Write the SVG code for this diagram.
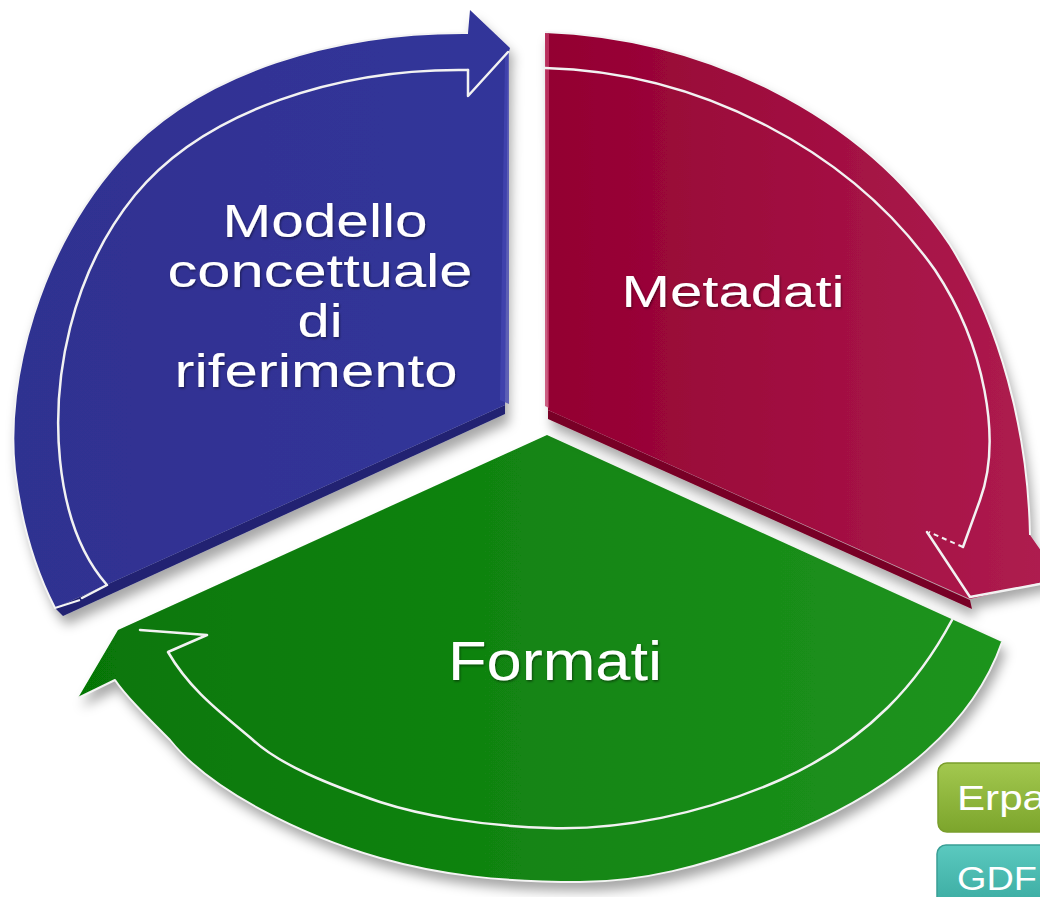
<svg xmlns="http://www.w3.org/2000/svg" width="1040" height="897" viewBox="0 0 1040 897">
  <defs>
    <linearGradient id="gBlue" gradientUnits="userSpaceOnUse" x1="10" y1="0" x2="510" y2="0">
      <stop offset="0" stop-color="#2F3190"/>
      <stop offset="1" stop-color="#33359A"/>
    </linearGradient>
    <linearGradient id="gRed" gradientUnits="userSpaceOnUse" x1="545" y1="0" x2="1040" y2="0">
      <stop offset="0" stop-color="#930031"/>
      <stop offset="1" stop-color="#AE1C4F"/>
    </linearGradient>
    <linearGradient id="gGreen" gradientUnits="userSpaceOnUse" x1="80" y1="0" x2="1000" y2="0">
      <stop offset="0" stop-color="#067606"/>
      <stop offset="1" stop-color="#1F941F"/>
    </linearGradient>
    <linearGradient id="gErpa" x1="0" y1="0" x2="0" y2="1">
      <stop offset="0" stop-color="#A3C84F"/>
      <stop offset="1" stop-color="#7CA52C"/>
    </linearGradient>
    <linearGradient id="gGdf" x1="0" y1="0" x2="0" y2="1">
      <stop offset="0" stop-color="#5BC9BF"/>
      <stop offset="1" stop-color="#36A79D"/>
    </linearGradient>
    <filter id="shadow" x="-10%" y="-10%" width="120%" height="125%">
      <feDropShadow dx="4" dy="9" stdDeviation="6" flood-color="#000" flood-opacity="0.35"/>
    </filter>
    <filter id="tshadow" x="-5%" y="-10%" width="110%" height="130%">
      <feDropShadow dx="1" dy="1.5" stdDeviation="0.8" flood-color="#000" flood-opacity="0.45"/>
    </filter>
  </defs>
  <style>
    .lbl { font-family: "Liberation Sans", Arial, sans-serif; fill: #FFFFFF; text-anchor: middle; }
    .box { font-family: "Liberation Sans", Arial, sans-serif; fill: #FFFFFF; }
    .rim { fill: none; stroke: #F4F4F4; stroke-width: 2; stroke-linejoin: round; }
    .inner { fill: none; stroke: #F2F2F2; stroke-width: 2.5; stroke-linejoin: round; stroke-linecap: round; }
  </style>

  <rect width="1040" height="897" fill="#FFFFFF"/>

  <!-- Green: Formati -->
  <g id="node-formati">
    <g filter="url(#shadow)">
      <path d="M547,435 L1002,642 C975,720 900,790 780,837 C700,868 640,882 580,882 C500,882 440,875 380,858 C300,835 210,790 170,740 C145,715 125,695 115,680 L78,698 L118,630 Z" fill="url(#gGreen)"/>
    </g>
    <path class="rim" d="M1002,642 C975,720 900,790 780,837 C700,868 640,882 580,882 C500,882 440,875 380,858 C300,835 210,790 170,740 C145,715 125,695 115,680 L78,698"/>
    <path class="inner" d="M952,620 C920,680 870,740 780,780 C700,815 620,830 550,828 C480,826 420,815 380,802 C330,785 280,765 253,740 C220,712 190,690 168,652 L207,635 L140,630"/>
    <text class="lbl" x="555" y="680" font-size="56" textLength="214" lengthAdjust="spacingAndGlyphs" filter="url(#tshadow)">Formati</text>
  </g>

  <!-- Blue: Modello concettuale di riferimento -->
  <g id="node-modello">
    <g filter="url(#shadow)">
      <path d="M55,608 L505,405 L505,414 L63,616 Z" fill="#212372"/>
      <path d="M510,48 L470,10 L468,33 C340,32 200,70 120,160 C40,250 5,380 15,470 C22,530 38,575 55,608 L505,405 L508,55 Z" fill="url(#gBlue)"/>
    </g>
    <path d="M500,400 L505,55 L509,52 L509,404 Z" fill="#4446B0" opacity="0.8"/>
    <path class="rim" d="M468,33 C340,32 200,70 120,160 C40,250 5,380 15,470 C22,530 38,575 55,608 L80,600"/>
    <path class="inner" d="M468,70 C340,68 205,110 135,195 C70,275 52,380 60,460 C66,520 85,560 107,585 L82,598"/>
    <path class="inner" d="M468,70 L468,96 L508,52"/>
    <g class="lbl" font-size="47" filter="url(#tshadow)">
      <text x="325" y="237" textLength="205" lengthAdjust="spacingAndGlyphs">Modello</text>
      <text x="320" y="287" textLength="305" lengthAdjust="spacingAndGlyphs">concettuale</text>
      <text x="320" y="337" textLength="45" lengthAdjust="spacingAndGlyphs">di</text>
      <text x="316" y="387" textLength="283" lengthAdjust="spacingAndGlyphs">riferimento</text>
    </g>
  </g>

  <!-- Red: Metadati -->
  <g id="node-metadati">
    <g filter="url(#shadow)">
      <path d="M548,410 L970,600 L972,609 L548,419 Z" fill="#780026"/>
      <path d="M545,32 C700,38 860,110 950,245 C1000,325 1028,430 1030,535 L1060,578 L970,599 L548,410 Z" fill="url(#gRed)"/>
    </g>
    <path d="M545,32 L549,34 L549,408 L545,406 Z" fill="#C23A66" opacity="0.8"/>
    <path class="rim" d="M545,32 C700,38 860,110 950,245 C1000,325 1028,430 1030,535"/>
    <path class="inner" d="M545,68 C700,72 850,150 935,270 C985,345 1002,440 980,500 L963,547"/>
    <path d="M963,547 L929,532" fill="none" stroke="#F2F2F2" stroke-width="2" stroke-dasharray="5 4"/>
    <path class="inner" d="M927,532 L970,597 L1040,584"/>
    <text class="lbl" x="733" y="307" font-size="45" textLength="223" lengthAdjust="spacingAndGlyphs" filter="url(#tshadow)">Metadati</text>
  </g>

  <g id="connectors"></g>

  <!-- Side boxes -->
  <g id="node-erpa">
    <rect x="938" y="763" width="130" height="69" rx="9" fill="url(#gErpa)" stroke="#7A9E2C" stroke-width="1.5"/>
    <text class="box" x="957" y="810" font-size="35" textLength="89" lengthAdjust="spacingAndGlyphs">Erpa</text>
  </g>
  <g id="node-gdf">
    <rect x="937" y="845" width="130" height="70" rx="9" fill="url(#gGdf)" stroke="#3A9E95" stroke-width="1.5"/>
    <text class="box" x="957" y="890" font-size="34" textLength="80" lengthAdjust="spacingAndGlyphs">GDF</text>
  </g>
</svg>
